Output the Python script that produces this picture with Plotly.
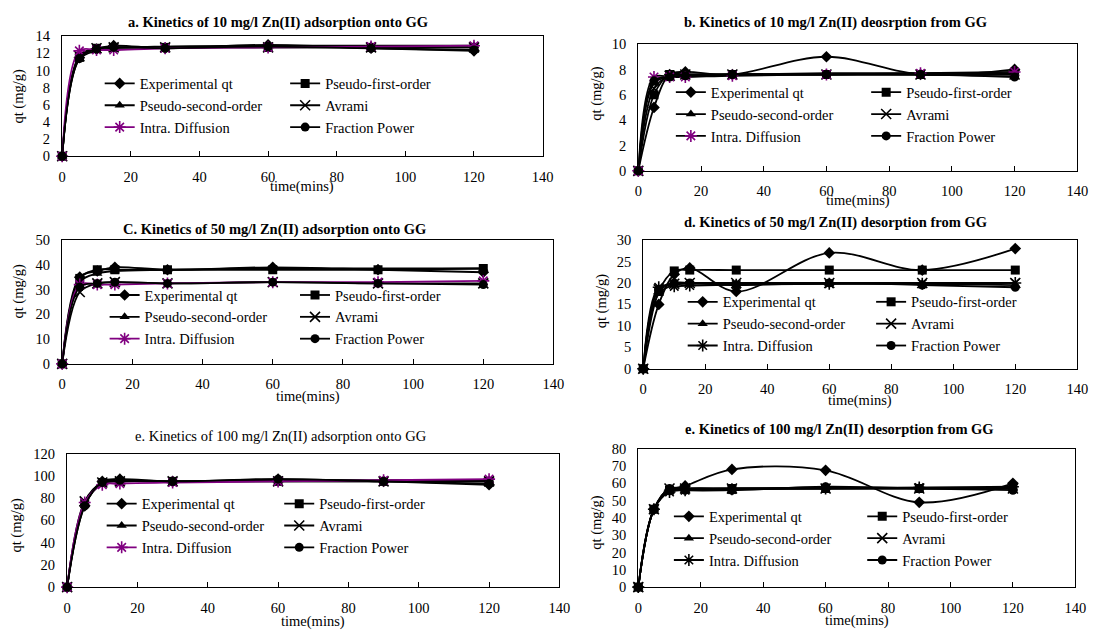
import plotly.graph_objects as go

W, H = 1109, 639
PURPLE = "#800080"
BLACK = "#000000"
SERIF = "Liberation Serif"

# sampling times (min)
time_min = [0, 5, 10, 15, 30, 60, 90, 120]

series_names = ["Experimental qt", "Pseudo-first-order", "Pseudo-second-order",
                "Avrami", "Intra. Diffusion", "Fraction Power"]

# a. 10 mg/l adsorption
a_experimental = [0, 11.5, 12.5, 12.9, 12.6, 13.0, 12.6, 12.3]
a_pseudo_first = [0, 11.6, 12.6, 12.7, 12.7, 12.7, 12.7, 12.7]
a_pseudo_second = [0, 11.3, 12.3, 12.6, 12.8, 12.9, 12.9, 12.9]
a_avrami = [0, 11.7, 12.6, 12.7, 12.7, 12.7, 12.7, 12.7]
a_intra = [0, 12.3, 12.4, 12.4, 12.6, 12.7, 12.8, 12.9]
a_fraction = [0, 11.4, 12.5, 12.7, 12.6, 12.8, 12.6, 12.4]

# b. 10 mg/l desorption
b_experimental = [0, 5.0, 7.6, 7.8, 7.6, 9.0, 7.6, 8.0]
b_pseudo_first = [0, 6.0, 7.6, 7.6, 7.6, 7.6, 7.6, 7.6]
b_pseudo_second = [0, 6.9, 7.4, 7.5, 7.6, 7.7, 7.7, 7.7]
b_avrami = [0, 6.5, 7.5, 7.6, 7.6, 7.6, 7.6, 7.6]
b_intra = [0, 7.4, 7.4, 7.4, 7.5, 7.6, 7.7, 7.8]
b_fraction = [0, 7.1, 7.4, 7.5, 7.6, 7.6, 7.6, 7.4]

# c. 50 mg/l adsorption
c_experimental = [0, 35, 37.5, 39, 38, 39, 38, 37]
c_pseudo_first = [0, 34.5, 38, 38, 38, 38, 38, 38.5]
c_pseudo_second = [0, 33, 36.5, 37.5, 38, 38.5, 38.5, 38.5]
c_avrami = [0, 29, 32.5, 33, 32.5, 33, 32.5, 32.5]
c_intra = [0, 32, 32, 32, 32.5, 33, 33, 33.5]
c_fraction = [0, 31, 32.5, 33, 32.5, 33, 32.5, 32]

# d. 50 mg/l desorption
d_experimental = [0, 15, 22, 23.5, 18, 27, 23, 28]
d_pseudo_first = [0, 18, 22.8, 23, 23, 23, 23, 23]
d_pseudo_second = [0, 17.5, 19.5, 19.8, 19.8, 19.8, 19.8, 19.5]
d_avrami = [0, 18.5, 19.8, 20, 20, 20, 20, 20]
d_intra = [0, 19, 19.2, 19.4, 19.6, 19.8, 19.8, 20]
d_fraction = [0, 18.5, 20, 20, 19.5, 20, 19.5, 19]

# e. 100 mg/l adsorption
e_experimental = [0, 73, 95, 97, 95, 97, 95, 92]
e_pseudo_first = [0, 75, 94, 95, 95, 95, 95, 95]
e_pseudo_second = [0, 74, 93, 95, 95, 96, 96, 96]
e_avrami = [0, 77, 94, 95, 95, 95, 95, 95]
e_intra = [0, 76, 92, 93, 94, 95, 96, 97]
e_fraction = [0, 73, 94, 96, 95, 97, 95, 93]

# f. 100 mg/l desorption
f_experimental = [0, 45, 56, 58.5, 68, 67.5, 49, 60]
f_pseudo_first = [0, 45, 56, 57, 57, 57, 57, 57]
f_pseudo_second = [0, 45, 56, 56.5, 57, 57.5, 57.5, 57.5]
f_avrami = [0, 45, 57, 57, 57, 57, 57, 57]
f_intra = [0, 45, 55, 56, 56.5, 57, 57.5, 58]
f_fraction = [0, 45, 57, 56, 56, 58, 57, 56]

panel_titles = [
    "a. Kinetics of 10 mg/l Zn(II) adsorption onto GG",
    "b. Kinetics of 10 mg/l Zn(II) deosrption from GG",
    "C. Kinetics of 50 mg/l Zn(II) adsorption onto GG",
    "d. Kinetics of 50 mg/l Zn(II) desorption from GG",
    "e. Kinetics of 100 mg/l Zn(II) adsorption onto GG",
    "e. Kinetics of 100 mg/l Zn(II) desorption from GG",
]
y_max = [14, 10, 50, 30, 120, 80]
y_step = [2, 2, 10, 5, 20, 10]

panel_series = [
    [a_experimental, a_pseudo_first, a_pseudo_second, a_avrami, a_intra, a_fraction],
    [b_experimental, b_pseudo_first, b_pseudo_second, b_avrami, b_intra, b_fraction],
    [c_experimental, c_pseudo_first, c_pseudo_second, c_avrami, c_intra, c_fraction],
    [d_experimental, d_pseudo_first, d_pseudo_second, d_avrami, d_intra, d_fraction],
    [e_experimental, e_pseudo_first, e_pseudo_second, e_avrami, e_intra, e_fraction],
    [f_experimental, f_pseudo_first, f_pseudo_second, f_avrami, f_intra, f_fraction],
]

# layout of each panel in pixels
# box = (left, right, top, bottom); legend = (col1 x, col2 x, middle row y)
panel_layout = [
    dict(box=(59, 546, 29, 152), title_xy=(278, 15), bold=True, ytitle_xy=(15, 90),
         xtitle_y=183, legend=(97, 285, 100), intra_line=PURPLE, intra_mark=PURPLE),
    dict(box=(643, 1088, 37, 167), title_xy=(843, 15), bold=True, ytitle_xy=(601, 87),
         xtitle_y=197, legend=(676, 874, 109), intra_line=BLACK, intra_mark=PURPLE),
    dict(box=(59, 557, 238, 365), title_xy=(274, 227), bold=True, ytitle_xy=(15, 290),
         xtitle_y=398, legend=(102, 295, 317), intra_line=PURPLE, intra_mark=PURPLE),
    dict(box=(648, 1088, 238, 370), title_xy=(843, 220), bold=True, ytitle_xy=(606, 300),
         xtitle_y=403, legend=(688, 879, 324), intra_line=BLACK, intra_mark=BLACK),
    dict(box=(64, 563, 457, 594), title_xy=(281, 440), bold=False, ytitle_xy=(13, 530),
         xtitle_y=629, legend=(99, 279, 531), intra_line=PURPLE, intra_mark=PURPLE),
    dict(box=(643, 1086, 452, 594), title_xy=(847, 432), bold=True, ytitle_xy=(601, 527),
         xtitle_y=628, legend=(674, 870, 544), intra_line=BLACK, intra_mark=BLACK),
]

symbols = ["diamond", "square", "triangle-up", "x-thin-open", "asterisk-open", "circle"]
sizes = [9, 9, 9, 10, 10, 9]
column_of = [0, 1, 0, 1, 0, 1]


def fx(p):
    return p / W


def fy(p):
    return 1 - p / H


fig = go.Figure()
layout = dict(
    width=W, height=H, margin=dict(l=0, r=0, t=0, b=0),
    paper_bgcolor="white", plot_bgcolor="white",
    font=dict(family=SERIF, color=BLACK, size=14),
    annotations=[],
)

for i, (series, cfg) in enumerate(zip(panel_series, panel_layout)):
    n = i + 1
    xa = "x" if n == 1 else f"x{n}"
    ya = "y" if n == 1 else f"y{n}"
    left, right, top, bottom = cfg["box"]
    leg_names = [f"legend{2 * i + 1}" if 2 * i + 1 > 1 else "legend",
                 f"legend{2 * i + 2}"]

    for k, (name, yv) in enumerate(zip(series_names, series)):
        line_color = BLACK
        mark_color = BLACK
        if k == 4:
            line_color = cfg["intra_line"]
            mark_color = cfg["intra_mark"]
        fig.add_trace(go.Scatter(
            x=time_min, y=yv, name=name, mode="lines+markers",
            xaxis=xa, yaxis=ya, legend=leg_names[column_of[k]],
            cliponaxis=False,
            line=dict(color=line_color, width=1.8, shape="spline", smoothing=1.0),
            marker=dict(symbol=symbols[k], size=sizes[k], color=mark_color,
                        line=dict(color=mark_color, width=1.6 if k in (3, 4) else 0)),
        ))

    axis_common = dict(showline=True, linecolor=BLACK, linewidth=1.4, mirror=True,
                       showgrid=False, zeroline=False,
                       tickfont=dict(family=SERIF, size=14.5, color=BLACK))
    layout["xaxis" if n == 1 else f"xaxis{n}"] = dict(
        axis_common, domain=[fx(left), fx(right)], anchor=ya,
        range=[0, 140], dtick=20, tick0=0, ticks="inside", ticklen=5,
        tickcolor=BLACK, ticklabelstandoff=7)
    layout["yaxis" if n == 1 else f"yaxis{n}"] = dict(
        axis_common, domain=[fy(bottom), fy(top)], anchor=xa,
        range=[0, y_max[i]], dtick=y_step[i], tick0=0, ticks="",
        ticklabelstandoff=8)

    for c in range(2):
        layout[leg_names[c]] = dict(
            x=fx(cfg["legend"][c]), y=fy(cfg["legend"][2]),
            xanchor="left", yanchor="middle", orientation="v",
            bgcolor="rgba(0,0,0,0)", borderwidth=0, tracegroupgap=0,
            font=dict(family=SERIF, size=14.5, color=BLACK),
        )

    title_text = f"<b>{panel_titles[i]}</b>" if cfg["bold"] else panel_titles[i]
    layout["annotations"] += [
        dict(text=title_text, xref="paper", yref="paper",
             x=fx(cfg["title_xy"][0]), y=fy(cfg["title_xy"][1]),
             xanchor="center", yanchor="middle", showarrow=False,
             font=dict(family=SERIF, size=14.5, color=BLACK)),
        dict(text="qt (mg/g)", xref="paper", yref="paper",
             x=fx(cfg["ytitle_xy"][0]), y=fy(cfg["ytitle_xy"][1]),
             xanchor="center", yanchor="middle", textangle=-90, showarrow=False,
             font=dict(family=SERIF, size=14.5, color=BLACK)),
        dict(text="time(mins)", xref=f"{xa} domain", yref="paper",
             x=0.5, y=fy(cfg["xtitle_y"]),
             xanchor="center", yanchor="middle", showarrow=False,
             font=dict(family=SERIF, size=14.5, color=BLACK)),
    ]

fig.update_layout(**layout)
fig.write_html("out.html")
